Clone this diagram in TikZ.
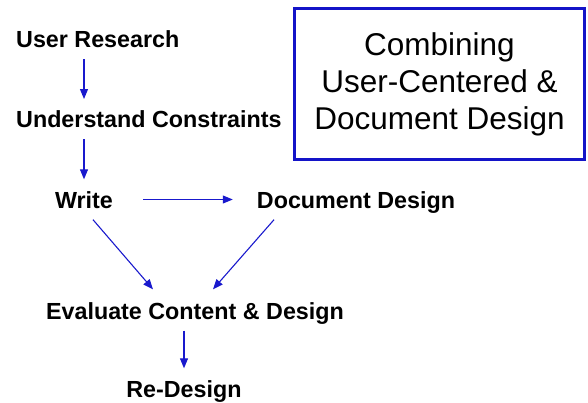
\documentclass[tikz,border=0pt]{standalone}
\usepackage{fontspec}
\setmainfont{Liberation Sans}
\usepackage{tikz}
\usetikzlibrary{positioning, calc, arrows.meta}
\definecolor{flowblue}{RGB}{25,25,205}
\definecolor{boxblue}{RGB}{20,20,200}

\begin{document}
\begin{tikzpicture}[x=1pt, y=-1pt,
    stage/.style={font=\fontsize{23.3}{28}\selectfont\bfseries,
      text height=21pt,
      text depth=4pt,
      inner xsep=4pt,
      inner ysep=7.5pt},
    flow/.style={draw=flowblue, line width=1.1pt,
      -{Triangle[width=8pt, length=10pt]}}]
  \useasboundingbox (0,0) rectangle (588,402);

  \node [stage, anchor=base west] (research) at (12,47.7) {User Research};

  \node [stage, below=80pt of research.base west,
    anchor=base west] (constraints) {Understand Constraints};

  \node [stage, anchor=base] (write) at (84,208) {Write};

  \node [stage, right=272pt of write.base,
    anchor=base] (docdesign) {Document Design};

  \node [stage, anchor=base] (evaluate) at (195,319) {Evaluate Content \& Design};

  \node [stage, anchor=base] (redesign) at (184,397) {Re-Design};

  % TITLE BOX
  \node [draw=boxblue, line width=3pt,
    minimum width=290pt, minimum height=151pt,
    align=center, font=\fontsize{31.5}{37}\selectfont] (title) at (439.5,84)
    {Combining\\User-Centered \&\\Document Design};

  % FLOW
  \draw[flow] (research.south -| write) -- (constraints.north -| write);
  \draw[flow] (constraints.south -| write) -- (write);

  \draw[flow] ($(write.east)+(26,0)$) -- ($(docdesign.west)+(-20,0)$);

  \draw[flow] ($(write.south)+(9,0)$) -- ($(evaluate.north)+(-42,-1)$);
  \draw[flow] ($(docdesign.south)+(-82,0)$) -- ($(evaluate.north)+(18,-1)$);

  \draw[flow] (evaluate.south -| redesign) -- (redesign);

\end{tikzpicture}
\end{document}
